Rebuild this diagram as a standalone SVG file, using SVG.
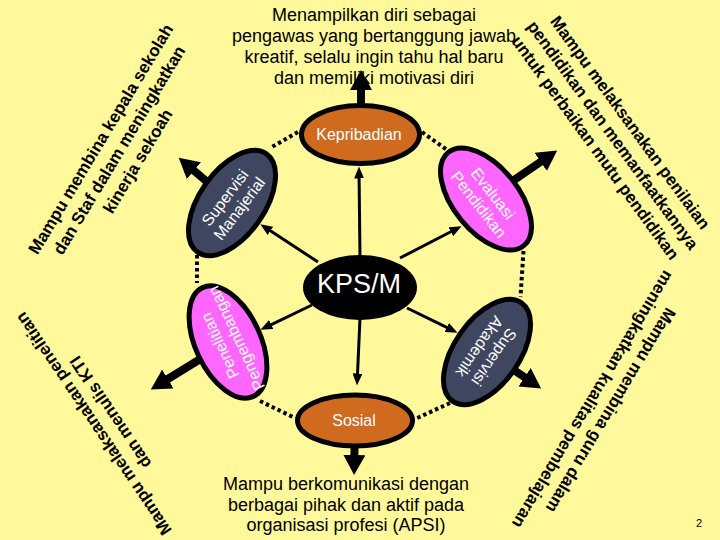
<svg xmlns="http://www.w3.org/2000/svg" width="720" height="540" viewBox="0 0 720 540">
<style>
.cap{font-family:"Liberation Sans",Arial,sans-serif;font-size:18px;fill:#000;text-anchor:middle}
.note{font-family:"Liberation Sans",Arial,sans-serif;font-size:17px;font-weight:bold;fill:#000;text-anchor:middle}
.lbl{font-family:"Liberation Sans",Arial,sans-serif;font-size:16px;fill:#fff;text-anchor:middle}
.node{stroke:#000;stroke-width:5}
.brown{fill:#CF6A1F}
.slate{fill:#3F4760}
.pink{fill:#FF66FF}
.dot{stroke:#000;stroke-width:4;stroke-dasharray:3.5 3;fill:none}
.thin{stroke:#000;stroke-width:3;fill:none;marker-end:url(#hs)}
.thick{stroke:#000;stroke-width:8;fill:none;marker-end:url(#hb)}
</style>
<defs>
<marker id="hs" markerUnits="userSpaceOnUse" markerWidth="12" markerHeight="10" refX="0.5" refY="5" orient="auto" viewBox="0 0 12 10"><path d="M0,0 L12,5 L0,10 z" fill="#000"/></marker>
<marker id="hb" markerUnits="userSpaceOnUse" markerWidth="20" markerHeight="22" refX="1" refY="11" orient="auto" viewBox="0 0 20 22"><path d="M0,0 L20,11 L0,22 z" fill="#000"/></marker>
</defs>
<rect width="720" height="540" fill="#FFF99C"/>

<g id="notes">
<text class="cap"><tspan x="374" y="21">Menampilkan diri sebagai</tspan><tspan x="374" y="42">pengawas yang bertanggung jawab</tspan><tspan x="374" y="63">kreatif, selalu ingin tahu hal baru</tspan><tspan x="374" y="84">dan memiliki motivasi diri</tspan></text>
<text class="cap"><tspan x="346" y="490">Mampu berkomunikasi dengan</tspan><tspan x="346" y="511">berbagai pihak dan aktif pada</tspan><tspan x="346" y="531">organisasi profesi (APSI)</tspan></text>
<text class="note" transform="translate(119,150) rotate(-59)"><tspan x="0" y="-15.5">Mampu membina kepala sekolah</tspan><tspan x="0" y="6">dan Staf dalam meningkatkan</tspan><tspan x="0" y="27.5">kinerja sekoah</tspan></text>
<text class="note" transform="translate(613,135) rotate(54)"><tspan x="0" y="-15.5">Mampu melaksanakan penilaian</tspan><tspan x="0" y="6">pendidikan dan memanfaatkannya</tspan><tspan x="0" y="27.5">untuk perbaikan mutu pendidikan</tspan></text>
<text class="note" transform="translate(602,405) rotate(121)"><tspan x="0" y="-4.5">Mampu membina guru dalam</tspan><tspan x="0" y="16.5">meningkatkan kualitas pembelajaran</tspan></text>
<text class="note" transform="translate(102,418) rotate(-124)"><tspan x="0" y="-4.5">Mampu melaksanakan penelitian</tspan><tspan x="0" y="16">dan menulis KTI</tspan></text>
<text x="699" y="527" font-family="Liberation Sans, Arial, sans-serif" font-size="11" text-anchor="middle">2</text>
</g>

<g id="connectors">
<line class="dot" x1="298" y1="132" x2="270" y2="148"/>
<line class="dot" x1="422" y1="132" x2="447" y2="150"/>
<line class="dot" x1="197" y1="255" x2="197" y2="283"/>
<line class="dot" x1="523.5" y1="251" x2="520.5" y2="297"/>
<line class="dot" x1="260" y1="401" x2="295" y2="418"/>
<line class="dot" x1="450" y1="403" x2="415" y2="419"/>

<line class="thin" x1="360" y1="258" x2="359.1" y2="178"/>
<line class="thin" x1="318" y1="262" x2="270" y2="230.6"/>
<line class="thin" x1="400" y1="258" x2="451.3" y2="231.5"/>
<line class="thin" x1="312" y1="305" x2="270.8" y2="324.8"/>
<line class="thin" x1="407" y1="308" x2="447.2" y2="327.7"/>
<line class="thin" x1="360" y1="318" x2="357.5" y2="374"/>

<line class="thick" x1="361" y1="134" x2="361" y2="89"/>
<line class="thick" x1="232" y1="203" x2="193.2" y2="170"/>
<line class="thick" x1="486" y1="199" x2="541.5" y2="161.3"/>
<line class="thick" x1="228" y1="342" x2="167" y2="379.5"/>
<line class="thick" x1="487" y1="352" x2="525.4" y2="377.8"/>
<line class="thick" x1="355" y1="420" x2="354.4" y2="456"/>
</g>

<g id="kps">
<ellipse cx="360" cy="287.5" rx="57" ry="32.5" fill="#000"/>
<text x="359" y="293" font-family="Liberation Sans, Arial, sans-serif" font-size="27" fill="#fff" text-anchor="middle">KPS/M</text>
</g>
<g id="kepribadian">
<ellipse class="node brown" cx="360.5" cy="134.5" rx="59" ry="29"/>
<text class="lbl" x="359" y="140">Kepribadian</text>
</g>
<g id="sosial">
<ellipse class="node brown" cx="355" cy="420.5" rx="57.5" ry="25.5"/>
<text class="lbl" x="354" y="426">Sosial</text>
</g>
<g id="supervisi-manajerial" transform="translate(232,203)">
<ellipse class="node slate" rx="60" ry="32.5" transform="rotate(-55)"/>
<text class="lbl" transform="rotate(-53)"><tspan x="0" y="-3.3">Supervisi</tspan><tspan x="0" y="14.7">Manajerial</tspan></text>
</g>
<g id="evaluasi-pendidikan" transform="translate(486,199)">
<ellipse class="node pink" rx="60" ry="32.5" transform="rotate(51)"/>
<text class="lbl" transform="rotate(52)"><tspan x="0" y="-3.3">Evaluasi</tspan><tspan x="0" y="14.7">Pendidikan</tspan></text>
</g>
<g id="penelitian-pengembangan" transform="translate(228,342)">
<ellipse class="node pink" rx="60" ry="32.5" transform="rotate(-115)"/>
<text class="lbl" transform="rotate(-115)"><tspan x="0" y="-3.3">Penelitian</tspan><tspan x="0" y="14.7">Pengembangan</tspan></text>
</g>
<g id="supervisi-akademik" transform="translate(487,352)">
<ellipse class="node slate" rx="60" ry="32.5" transform="rotate(125)"/>
<text class="lbl" transform="rotate(125)"><tspan x="0" y="-3.3">Supervisi</tspan><tspan x="0" y="14.7">Akademik</tspan></text>
</g>
</svg>
